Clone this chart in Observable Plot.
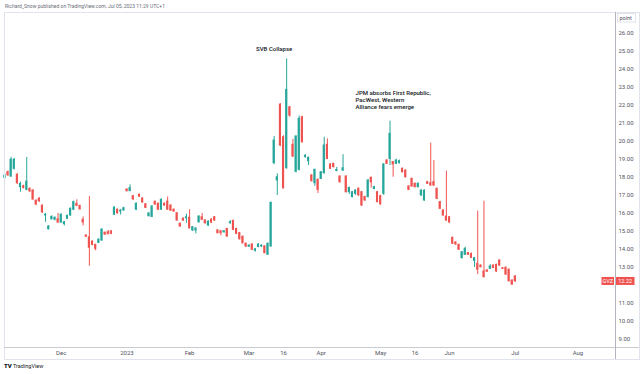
<!DOCTYPE html>
<html>
<head>
<meta charset="utf-8">
<script src="https://cdn.jsdelivr.net/npm/d3@7"></script>
<script src="https://cdn.jsdelivr.net/npm/@observablehq/plot@0.6"></script>
<style>
  html, body { margin: 0; padding: 0; background: #ffffff; }
  #chart { width: 643px; height: 374px; }
</style>
</head>
<body>
<div id="chart"></div>
<script>
// ---- Data (GVZ daily candles) ----
const startDate = "2022-11-04";
const holidays = ["2022-11-24","2022-12-26","2023-01-02","2023-01-16","2023-02-20","2023-04-07","2023-05-29","2023-06-19","2023-07-04"];

const opens = [17.97,18.28,18.04,18.47,18.14,17.45,17.50,17.30,17.35,17.27,16.69,16.80,16.42,15.88,15.12,15.67,15.65,15.67,15.49,15.40,
15.70,15.88,16.20,16.52,16.41,15.64,14.77,14.67,14.43,14.25,14.36,14.49,14.92,14.95,15.00,15.92,16.20,16.10,16.16,17.32,
17.23,16.95,16.20,17.03,16.82,16.50,15.84,15.80,16.64,16.53,16.20,16.53,16.65,16.43,16.20,16.00,15.42,15.70,15.72,15.75,
15.05,15.05,15.50,15.78,15.60,15.32,15.65,15.78,15.05,15.00,14.95,15.13,15.45,15.58,15.13,14.90,14.70,14.31,14.15,14.27,
13.92,14.13,14.16,14.16,13.70,14.16,18.78,17.82,22.03,20.22,18.50,21.88,19.80,18.30,18.41,21.33,19.12,18.89,18.10,17.67,
17.86,17.91,18.22,19.80,18.71,18.74,18.35,18.04,18.37,18.04,17.17,16.90,17.08,17.36,17.17,16.90,16.90,17.97,17.35,17.17,
16.95,17.08,18.93,19.02,18.84,18.75,18.78,18.47,18.37,17.49,17.91,17.64,17.45,16.99,16.71,17.73,17.67,17.73,17.36,16.62,
16.16,15.82,15.78,14.64,14.38,14.25,13.51,13.70,13.79,13.75,13.36,13.20,13.10,12.77,12.83,12.92,13.10,13.14,13.38,12.95,
12.98,12.87,12.27,12.50];
const highs = [18.20,18.35,19.11,19.05,18.20,17.73,17.56,19.10,17.42,17.30,16.75,16.88,16.47,16.00,15.32,15.86,15.80,15.99,15.97,15.55,
15.90,16.30,16.68,16.75,16.45,15.80,14.80,16.93,14.47,14.28,14.58,15.14,14.96,15.05,15.03,16.36,16.24,16.22,16.34,17.36,
17.58,16.99,16.57,17.07,16.86,16.54,16.03,16.42,16.68,16.57,16.80,16.57,16.90,16.47,16.24,16.04,15.46,15.74,15.95,16.20,
15.27,15.20,15.86,15.99,15.64,15.58,15.70,15.82,15.09,15.04,15.05,15.17,15.60,15.62,15.17,14.94,14.74,14.35,14.26,14.31,
14.05,14.31,14.26,14.20,14.35,16.62,20.26,18.19,22.08,20.30,24.57,21.93,20.10,20.30,21.40,21.38,19.25,19.12,18.14,18.45,
17.90,18.32,20.22,20.13,18.75,18.78,18.55,18.08,19.25,18.08,17.45,17.21,17.30,17.40,17.21,16.94,17.86,18.01,17.50,17.21,
17.00,18.75,18.97,21.11,18.88,19.00,18.95,18.51,18.41,17.53,17.95,17.68,17.68,17.30,17.30,17.77,19.89,18.93,17.40,16.66,
16.20,18.34,15.82,14.68,14.42,14.29,13.88,14.12,13.83,13.79,13.55,16.12,13.14,16.67,12.87,13.15,13.14,13.18,13.42,12.99,
13.02,12.91,12.31,12.54];
const lows = [17.90,18.05,18.00,18.40,17.60,17.17,17.35,17.25,17.15,16.72,16.42,16.60,16.00,15.50,15.08,15.62,15.58,15.45,15.45,15.30,
15.65,15.84,16.15,16.38,16.18,15.30,14.66,13.07,14.20,13.92,14.32,14.45,14.78,14.80,14.82,15.88,15.96,15.90,16.12,17.18,
17.20,16.73,16.15,16.88,16.56,16.26,15.80,15.76,16.45,16.16,16.16,16.40,16.16,16.10,16.06,15.56,15.22,15.55,15.45,15.13,
15.00,14.86,15.46,15.60,15.40,15.28,15.44,15.56,14.86,14.75,14.90,14.67,15.40,15.04,14.82,14.52,14.30,14.10,14.10,13.94,
13.85,14.09,14.10,13.75,13.66,14.12,18.70,16.99,19.70,17.35,18.45,21.33,19.10,18.25,18.35,19.90,19.05,18.65,17.74,17.50,
17.10,17.87,18.18,18.98,18.43,18.52,18.30,17.68,18.33,17.13,17.05,16.86,17.00,16.95,16.39,16.67,16.86,17.40,17.30,16.58,
16.45,17.00,18.70,18.65,18.00,18.70,18.74,18.24,17.96,17.26,17.45,17.41,17.41,16.95,16.67,17.60,17.50,17.50,16.76,16.21,
15.84,15.56,15.45,14.27,14.23,13.94,13.47,13.66,13.66,13.49,13.00,12.60,12.97,12.42,12.72,12.88,12.93,12.73,13.06,12.88,
12.56,12.19,12.00,12.18];
const closes = [18.08,18.11,18.97,18.97,17.67,17.63,17.41,17.76,17.22,16.77,16.49,16.67,16.05,15.92,15.27,15.80,15.75,15.49,15.92,15.50,
15.86,16.25,16.62,16.41,16.22,15.49,14.70,14.09,14.25,14.03,14.54,15.10,14.82,14.85,14.86,16.32,16.00,16.15,16.28,17.23,
17.40,16.77,16.53,16.92,16.60,16.30,15.99,16.38,16.49,16.20,16.75,16.43,16.20,16.15,16.10,15.60,15.27,15.60,15.78,15.17,
15.23,15.15,15.82,15.64,15.45,15.54,15.48,15.60,14.90,14.90,15.00,14.71,15.50,15.08,14.86,14.56,14.34,14.16,14.20,13.98,
14.00,14.27,14.20,13.79,14.31,16.58,20.04,18.00,19.76,17.39,22.85,21.42,19.15,20.26,21.24,19.94,19.20,19.08,17.78,18.41,
17.30,18.28,19.76,19.02,18.47,18.56,18.40,17.72,18.50,17.17,17.41,17.17,17.26,16.99,16.43,16.71,17.82,17.72,17.45,16.62,
16.50,18.71,18.75,20.41,18.71,18.93,18.89,18.28,18.00,17.30,17.49,17.45,17.64,17.26,17.26,17.64,17.54,17.54,16.80,16.25,
15.88,15.60,15.49,14.31,14.27,13.98,13.84,14.03,13.70,13.53,13.51,12.87,13.01,12.46,12.76,13.05,12.97,12.77,13.10,12.92,
12.60,12.23,12.05,12.22];

const symbol = "GVZ";
const tickDates = ["2022-12-01","2023-01-03","2023-02-01","2023-03-01","2023-03-16","2023-04-03","2023-05-01","2023-05-16","2023-06-01","2023-07-03","2023-08-01"];
const tickLabels = ["Dec","2023","Feb","Mar","16","Apr","May","16","Jun","Jul","Aug"];
// 12.00 sits under the last-price label in the reference, so it is not listed
const priceTicks = [9,10,11,13,14,15,16,17,18,19,20,21,22,23,24,25,26];

const noteDates = ["2023-03-13","2023-04-19"];
const noteLevels = [25.25, 22.84];
const noteTexts = ["SVB Collapse", "JPM absorbs First Republic,\nPacWest, Western\nAlliance fears emerge"];

// ---- Build ----
function tradingDays(start, n) {
  const d = new Date(start + "T00:00:00Z");
  const out = [];
  while (out.length < n) {
    const dow = d.getUTCDay();
    const s = d.toISOString().slice(0, 10);
    if (dow !== 0 && dow !== 6 && !holidays.includes(s)) out.push(s);
    d.setUTCDate(d.getUTCDate() + 1);
  }
  return out;
}
const calendar = tradingDays(startDate, 200);
const candles = closes.map((c, i) => ({i, date: calendar[i], o: opens[i], h: highs[i], l: lows[i], c}));
const ups = candles.filter(d => d.c >= d.o);
const downs = candles.filter(d => d.c < d.o);
const ticks = tickDates.map((s, k) => ({idx: calendar.indexOf(s), label: tickLabels[k]}));
const labelOf = new Map(ticks.map(t => [t.idx, t.label]));
const notes = noteDates.map((s, k) => ({idx: calendar.indexOf(s), y: noteLevels[k], text: noteTexts[k]}));

const UP = "#26a69a", DOWN = "#ef5350";
const FONT = "Roboto, 'Liberation Sans', Arial, sans-serif";
const halfBody = 0.34;

const chart = Plot.plot({
  width: 643,
  height: 374,
  marginLeft: 4,
  marginRight: 28,
  marginTop: 12,
  marginBottom: 27,
  style: {fontFamily: FONT, background: "#ffffff", overflow: "visible"},
  x: {type: "linear", domain: [-0.1, 195]},
  y: {domain: [8.556, 27.14]},
  marks: [
    Plot.axisX(ticks.map(t => t.idx), {anchor: "bottom", tickSize: 0, tickPadding: 3, fontSize: 6, fill: "#50535e", tickFormat: d => labelOf.get(d)}),
    Plot.axisY(priceTicks, {anchor: "right", tickSize: 0, tickPadding: 3, textAnchor: "start", fontSize: 6, fill: "#50535e", tickFormat: d => d.toFixed(2)}),
    Plot.ruleX(ups, {x: "i", y1: "l", y2: "h", stroke: UP, strokeWidth: 1}),
    Plot.ruleX(downs, {x: "i", y1: "l", y2: "h", stroke: DOWN, strokeWidth: 1}),
    Plot.rect(ups, {x1: d => d.i - halfBody, x2: d => d.i + halfBody, y1: "o", y2: "c", fill: UP, insetTop: -0.5, insetBottom: -0.5}),
    Plot.rect(downs, {x1: d => d.i - halfBody, x2: d => d.i + halfBody, y1: "o", y2: "c", fill: DOWN, insetTop: -0.5, insetBottom: -0.5}),
    Plot.text(notes.slice(0, 1), {x: "idx", y: "y", text: "text", textAnchor: "middle", lineAnchor: "top", fontSize: 6, fontWeight: 500, fill: "#131722"}),
    Plot.text(notes.slice(1), {x: "idx", y: "y", text: "text", textAnchor: "start", lineAnchor: "top", lineHeight: 1.15, fontSize: 6, fontWeight: 500, fill: "#131722"})
  ]
});

document.getElementById("chart").appendChild(chart);

const svg = d3.select(chart);
const ys = chart.scale("y");
const pLeft = 4, pRight = 615, pTop = 12, pBottom = 347, outerR = 639, outerB = 359;

const g = svg.append("g").attr("text-anchor", "start").attr("font-family", FONT);
g.append("rect").attr("x", pLeft + 0.5).attr("y", pTop + 0.5).attr("width", outerR - pLeft).attr("height", outerB - pTop)
  .attr("fill", "none").attr("stroke", "#e0e3eb");
g.append("line").attr("x1", pLeft).attr("x2", outerR).attr("y1", pBottom + 0.5).attr("y2", pBottom + 0.5).attr("stroke", "#c9cbd1");
g.append("line").attr("x1", pRight + 0.5).attr("x2", pRight + 0.5).attr("y1", pTop).attr("y2", outerB).attr("stroke", "#b2b5be");

// unit box
g.append("rect").attr("x", 617.5).attr("y", 13.5).attr("width", 18).attr("height", 8.5).attr("fill", "#fff").attr("stroke", "#e0e3eb");
g.append("text").attr("x", 619.5).attr("y", 19.8).attr("text-anchor", "start").attr("font-size", 5.5).attr("fill", "#50535e").text("point");

// last price labels
const last = candles[candles.length - 1];
const yl = ys.apply(last.c);
g.append("rect").attr("x", 601.5).attr("y", yl - 4).attr("width", 12.5).attr("height", 8).attr("fill", DOWN);
g.append("text").attr("x", 607.7).attr("y", yl + 2).attr("text-anchor", "middle").attr("font-size", 5.5).attr("fill", "#fff").text(symbol);
g.append("rect").attr("x", 616).attr("y", yl - 4).attr("width", 18.5).attr("height", 8).attr("fill", DOWN);
g.append("text").attr("x", 625.2).attr("y", yl + 2).attr("text-anchor", "middle").attr("font-size", 5.5).attr("fill", "#fff").text(last.c.toFixed(2));

// attribution & logo
g.append("text").attr("x", 5).attr("y", 8).attr("text-anchor", "start").attr("font-size", 5).attr("fill", "#6a6d78")
  .text("Richard_Snow published on TradingView.com, Jul 05, 2023 11:29 UTC+1");
g.append("text").attr("x", 4).attr("y", 368.2).attr("text-anchor", "start").attr("font-size", 6).attr("font-weight", 900).attr("fill", "#131722").text("TV");
g.append("text").attr("x", 13).attr("y", 368.2).attr("text-anchor", "start").attr("font-size", 5.5).attr("fill", "#131722").text("TradingView");
</script>
</body>
</html>
